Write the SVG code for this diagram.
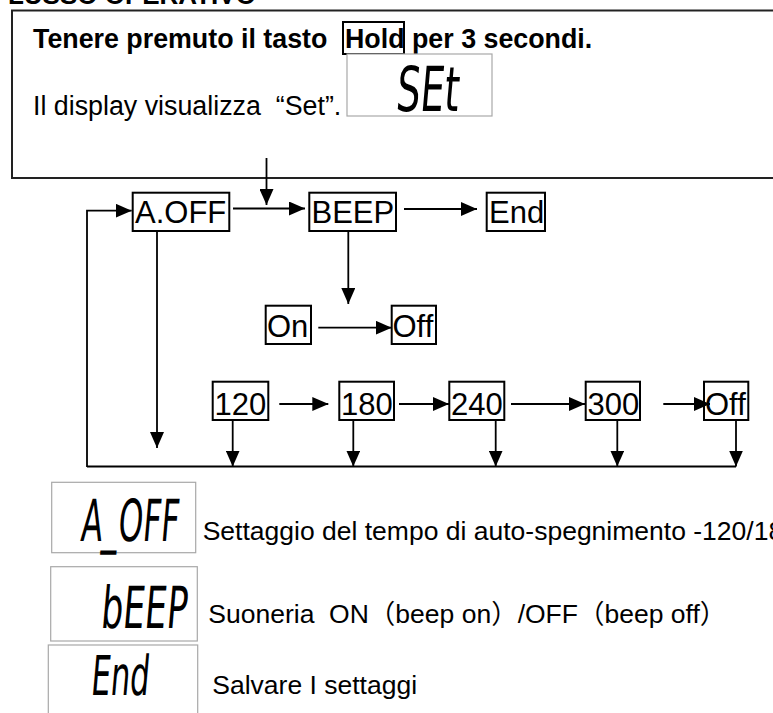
<svg xmlns="http://www.w3.org/2000/svg" width="773" height="713" viewBox="0 0 773 713">
<style>
.bg{fill:#ffffff}
.frame{fill:none;stroke:#222;stroke-width:2}
.box{fill:#fff;stroke:#000;stroke-width:2}
.lcd{fill:#fff;stroke:#a8a8a8;stroke-width:1.2}
.lbl{font-family:"Liberation Sans",Arial,sans-serif;font-size:31px;fill:#000}
.txt{font-family:"Liberation Sans",Arial,"Noto Sans CJK SC",sans-serif;font-size:26.5px;fill:#000;white-space:pre}
.big{font-size:26.8px}
.bold{font-weight:bold}
.seg{font-family:"DejaVu Sans Condensed","DejaVu Sans",sans-serif;fill:#000}
.ln{fill:none;stroke:#000;stroke-width:1.8}
</style>
<defs>
<marker id="ah" markerUnits="userSpaceOnUse" markerWidth="16" markerHeight="14" refX="16" refY="7" orient="auto">
<path d="M0,0 L16,7 L0,14 z" fill="#000"/>
</marker>
</defs>
<rect class="bg" x="0" y="0" width="773" height="713"/>

<g id="title">
<text class="txt bold" x="-8" y="4" style="font-size:26px">FLUSSO OPERATIVO</text>
</g>

<g id="instruction">
<rect class="frame" x="12" y="10.5" width="800" height="167.5"/>
<text class="txt big bold" x="33" y="48">Tenere premuto il tasto</text>
<rect class="box" x="343" y="22" width="61" height="32"/>
<text class="txt big bold" x="345" y="48">Hold</text>
<text class="txt big bold" x="412" y="48">per 3 secondi.</text>
<text class="txt big" x="33" y="115" xml:space="preserve">Il display visualizza  “Set”.</text>
<rect class="lcd" x="347" y="54" width="145" height="62"/>
<text class="seg" transform="translate(395,111) skewX(-5) scale(0.68,1)" style="font-size:62px">SEt</text>
</g>

<g id="n-aoff"><rect class="box" x="132.7" y="192.7" width="96.6" height="38.3"/><text class="lbl" x="135" y="222.5">A.OFF</text></g>
<g id="n-beep"><rect class="box" x="309.3" y="192.7" width="86.7" height="38.3"/><text class="lbl" x="311.5" y="222.5">BEEP</text></g>
<g id="n-end"><rect class="box" x="486.7" y="192.7" width="58.3" height="38.3"/><text class="lbl" x="489" y="222.5">End</text></g>
<g id="n-on"><rect class="box" x="265.7" y="305.7" width="45.3" height="38.3"/><text class="lbl" x="267" y="336.5">On</text></g>
<g id="n-off1"><rect class="box" x="391.7" y="305.7" width="44.3" height="38.3"/><text class="lbl" x="392.5" y="336.5">Off</text></g>
<g id="n-120"><rect class="box" x="212.7" y="381.7" width="55.6" height="38.3"/><text class="lbl" x="214.5" y="414.5">120</text></g>
<g id="n-180"><rect class="box" x="339.3" y="381.7" width="54.7" height="38.3"/><text class="lbl" x="341" y="414.5">180</text></g>
<g id="n-240"><rect class="box" x="449.3" y="381.7" width="55" height="38.3"/><text class="lbl" x="451" y="414.5">240</text></g>
<g id="n-300"><rect class="box" x="585.7" y="381.7" width="54.3" height="38.3"/><text class="lbl" x="587.5" y="414.5">300</text></g>
<g id="n-off2"><rect class="box" x="704" y="381.7" width="44.3" height="38.3"/><text class="lbl" x="705" y="414.5">Off</text></g>

<g id="connectors">
<line class="ln" x1="266.5" y1="158" x2="266.5" y2="205" marker-end="url(#ah)"/>
<line class="ln" x1="233" y1="208.5" x2="305" y2="208.5" marker-end="url(#ah)"/>
<line class="ln" x1="404" y1="209" x2="477" y2="209" marker-end="url(#ah)"/>
<polyline class="ln" points="87,467 87,210.7 131.7,210.7" marker-end="url(#ah)"/>
<line class="ln" x1="87" y1="466.5" x2="736" y2="466.5"/>
<line class="ln" x1="157" y1="231" x2="157" y2="448" marker-end="url(#ah)"/>
<line class="ln" x1="348.3" y1="231" x2="348.3" y2="304" marker-end="url(#ah)"/>
<line class="ln" x1="318.3" y1="327.7" x2="391.7" y2="327.7" marker-end="url(#ah)"/>
<line class="ln" x1="279.3" y1="404" x2="328.3" y2="404" marker-end="url(#ah)"/>
<line class="ln" x1="399" y1="404" x2="449" y2="404" marker-end="url(#ah)"/>
<line class="ln" x1="511" y1="404" x2="585" y2="404" marker-end="url(#ah)"/>
<line class="ln" x1="663.3" y1="404" x2="710" y2="404" marker-end="url(#ah)"/>
<line class="ln" x1="232.7" y1="420" x2="232.7" y2="466.5" marker-end="url(#ah)"/>
<line class="ln" x1="353.3" y1="420" x2="353.3" y2="466.5" marker-end="url(#ah)"/>
<line class="ln" x1="495.7" y1="420" x2="495.7" y2="466.5" marker-end="url(#ah)"/>
<line class="ln" x1="617.3" y1="420" x2="617.3" y2="466.5" marker-end="url(#ah)"/>
<line class="ln" x1="736" y1="420" x2="736" y2="466.5" marker-end="url(#ah)"/>
</g>

<g id="legend-aoff">
<rect class="lcd" x="51.7" y="482.3" width="144" height="70.4"/>
<text class="seg" transform="translate(80,540.7) skewX(-5) scale(0.6,1)" style="font-size:58px">A_OFF</text>
<text class="txt" x="202.7" y="540">Settaggio del tempo di auto-spegnimento -120/18</text>
</g>
<g id="legend-beep">
<rect class="lcd" x="50.7" y="566.7" width="146.6" height="74.3"/>
<text class="seg" transform="translate(100,627.7) skewX(-5) scale(0.66,1)" style="font-size:58px">bEEP</text>
<text class="txt" x="208.3" y="623.3" xml:space="preserve">Suoneria  ON（beep on）/OFF（beep off）</text>
</g>
<g id="legend-end">
<rect class="lcd" x="48.3" y="645" width="149.4" height="80"/>
<text class="seg" transform="translate(90,695) skewX(-5) scale(0.62,1)" style="font-size:55px">End</text>
<text class="txt" x="212.3" y="694.3">Salvare I settaggi</text>
</g>
</svg>
